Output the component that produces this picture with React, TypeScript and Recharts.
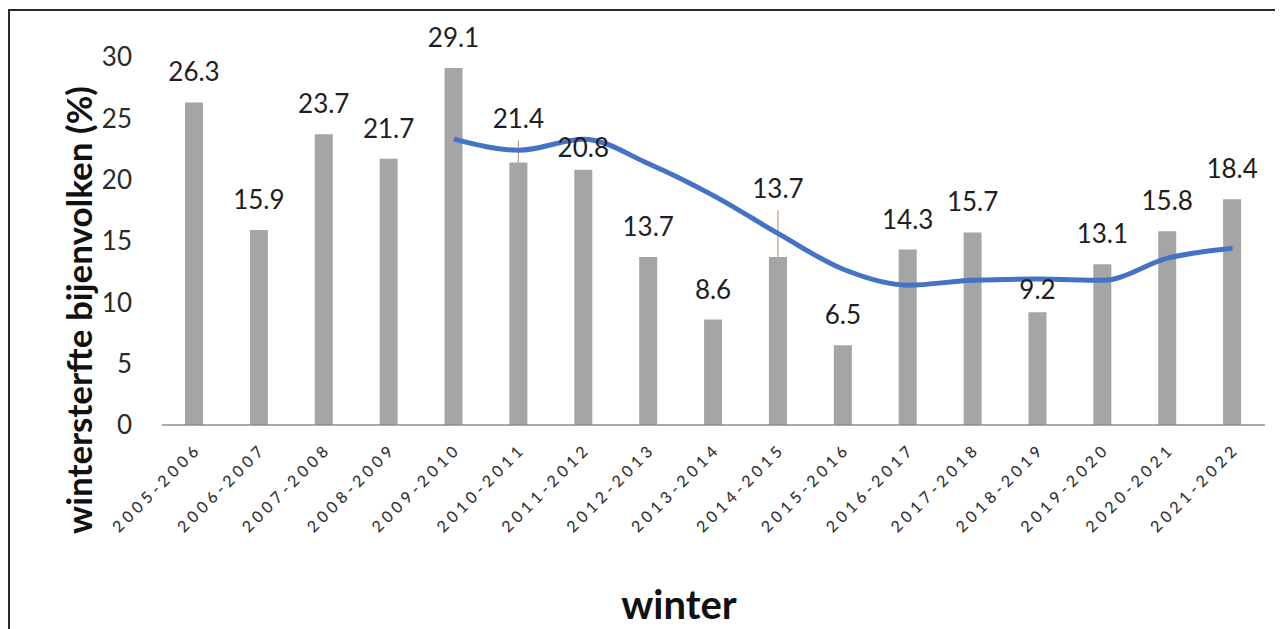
import React from 'react';
import { ComposedChart, Bar, Line, XAxis, YAxis, LabelList, ErrorBar, Label } from 'recharts';

const categories = [
  '2005-2006', '2006-2007', '2007-2008', '2008-2009', '2009-2010', '2010-2011',
  '2011-2012', '2012-2013', '2013-2014', '2014-2015', '2015-2016', '2016-2017',
  '2017-2018', '2018-2019', '2019-2020', '2020-2021', '2021-2022',
];
const mortality = [26.3, 15.9, 23.7, 21.7, 29.1, 21.4, 20.8, 13.7, 8.6, 13.7, 6.5, 14.3, 15.7, 9.2, 13.1, 15.8, 18.4];
const trend: (number | null)[] = [null, null, null, null, 23.3, 22.4, 23.3, 21.3, 18.7, 15.6, 12.7, 11.4, 11.8, 11.9, 11.8, 13.6, 14.4];
const errorUp = [0, 0, 0, 0, 0, 1.8, 0, 0, 0, 3.8, 0, 0, 0, 0, 0, 0, 0];
const yTicks = [0, 5, 10, 15, 20, 25, 30];

// label placement tweaks (style only)
const labelGapOverride: Record<string, number> = { '2011-2012': 13, '2018-2019': 13 };

const data = categories.map((c, i) => ({
  winter: c,
  value: mortality[i],
  avg: trend[i],
  err: [0, errorUp[i]],
}));

const FONT = 'Lato, "Open Sans", sans-serif';

const XTick = (props: any) => {
  const { x, y, payload } = props;
  return (
    <g transform={`translate(${x + 8},${y + 25})`}>
      <text
        x={0}
        y={0}
        textAnchor="end"
        transform="rotate(-45)"
        fontFamily={FONT}
        fontSize={16}
        fontWeight={500}
        letterSpacing={4.2}
        fill="#333"
      >
        {payload.value}
      </text>
    </g>
  );
};

const YTick = (props: any) => {
  const { y, payload } = props;
  return (
    <text x={124} y={y} dy="0.36em" textAnchor="end" fontFamily={FONT} fontSize={26} fill="#2a2a2a">
      {payload.value}
    </text>
  );
};

const BarLabel = (props: any) => {
  const { x, y, width, height, value, index } = props;
  const cat = categories[index];
  const pxPerUnit = value ? height / value : 0;
  const up = errorUp[index] || 0;
  let baseY: number;
  if (up > 0) {
    baseY = y - up * pxPerUnit - 12;
  } else {
    const gap = labelGapOverride[cat] ?? 21;
    baseY = y - gap;
  }
  return (
    <text x={x + width / 2} y={baseY} textAnchor="middle" fontFamily={FONT} fontSize={26} fill="#1e1e1e">
      {value}
    </text>
  );
};

export default function App() {
  return (
    <div style={{ position: 'relative', width: 1275, height: 621 }}>
      <ComposedChart
        width={1275}
        height={621}
        data={data}
        margin={{ top: 49, right: 18, bottom: 0, left: 0 }}
      >
        <XAxis
          dataKey="winter"
          interval={0}
          height={204}
          tickLine={false}
          tickSize={0}
          tickMargin={0}
          axisLine={{ stroke: '#8c8c8c', strokeWidth: 1.5 }}
          tick={<XTick />}
        >
          <Label
            content={() => (
              <text x={671} y={611} textAnchor="middle" fontFamily={FONT} fontWeight={700} fontSize={40} fill="#111">
                winter
              </text>
            )}
          />
        </XAxis>
        <YAxis
          width={154}
          domain={[0, 30]}
          ticks={yTicks}
          axisLine={false}
          tickLine={false}
          tick={<YTick />}
        >
          <Label
            content={() => (
              <text
                x={0}
                y={0}
                transform="translate(84,302) rotate(-90)"
                textAnchor="middle"
                fontFamily={FONT}
                fontWeight={700}
                fontSize={35}
                fill="#111"
              >
                wintersterfte bijenvolken (%)
              </text>
            )}
          />
        </YAxis>
        <Bar dataKey="value" fill="#a5a5a5" barSize={18} isAnimationActive={false}>
          <ErrorBar dataKey="err" width={0} stroke="#c49a78" strokeWidth={1.2} direction="y" />
          <LabelList dataKey="value" content={<BarLabel />} />
        </Bar>
        <Line
          dataKey="avg"
          type="monotone"
          stroke="#4472c4"
          strokeWidth={5}
          dot={false}
          activeDot={false}
          connectNulls={false}
          isAnimationActive={false}
        />
      </ComposedChart>
      <div
        style={{
          position: 'absolute',
          left: 0,
          top: 1,
          width: 1275,
          height: 621,
          borderTop: '2px solid #2a2a2a',
          borderLeft: '2px solid #2a2a2a',
          boxSizing: 'border-box',
          pointerEvents: 'none',
        }}
      />
    </div>
  );
}
